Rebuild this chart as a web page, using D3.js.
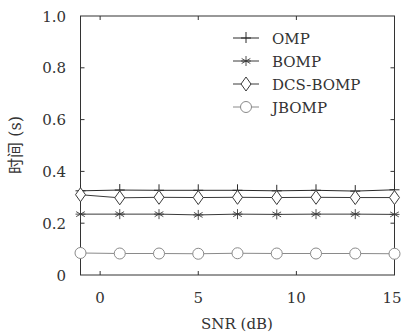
<!DOCTYPE html>
<html>
<head>
<meta charset="utf-8">
<script src="https://cdn.jsdelivr.net/npm/d3@7"></script>
<style>
  body { margin: 0; background: #fff; }
</style>
</head>
<body>
<svg id="chart" width="403" height="336" font-family="'DejaVu Serif', serif"></svg>
<script>
// SNR points (dB)
const snr = [-1, 1, 3, 5, 7, 9, 11, 13, 15];
const ompTime = [0.325, 0.328, 0.327, 0.327, 0.327, 0.325, 0.327, 0.324, 0.329];
const bompTime = [0.235, 0.235, 0.235, 0.232, 0.235, 0.234, 0.235, 0.235, 0.234];
const dcsTime = [0.31, 0.298, 0.3, 0.299, 0.3, 0.299, 0.3, 0.299, 0.299];
const jbompTime = [0.085, 0.083, 0.083, 0.082, 0.084, 0.083, 0.083, 0.083, 0.082];
const seriesNames = ["OMP", "BOMP", "DCS-BOMP", "JBOMP"];
const xTicks = [0, 5, 10, 15];
const yTicks = [0, 0.2, 0.4, 0.6, 0.8, 1.0];

const svg = d3.select("#chart");
const m = { left: 80.5, right: 394.5, top: 16, bottom: 275 };
const txt = "#333";

const x = d3.scaleLinear().domain([-1, 15]).range([m.left, m.right]);
const y = d3.scaleLinear().domain([0, 1]).range([m.bottom, m.top]);

const series = [
  { name: seriesNames[0], vals: ompTime, color: "#2a2a2a", mark: "plus" },
  { name: seriesNames[1], vals: bompTime, color: "#3a3a3a", mark: "star" },
  { name: seriesNames[2], vals: dcsTime, color: "#3a3a3a", mark: "diamond" },
  { name: seriesNames[3], vals: jbompTime, color: "#8a8a8a", mark: "circle" }
];

function drawMark(g, type, cx, cy, color) {
  if (type == "plus") {
    g.append("path").attr("d", `M${cx-5},${cy}H${cx+5}M${cx},${cy-6}V${cy+5}`)
      .attr("stroke", color).attr("stroke-width", 1).attr("fill", "none");
  } else if (type == "star") {
    const r = 5;
    let d = "";
    for (let a = 0; a < 180; a += 60) {
      const t = (a + 90) * Math.PI / 180;
      d += `M${cx - r*Math.cos(t)},${cy - r*Math.sin(t)}L${cx + r*Math.cos(t)},${cy + r*Math.sin(t)}`;
    }
    d += `M${cx-5},${cy}H${cx+5}`;
    g.append("path").attr("d", d).attr("stroke", color).attr("stroke-width", 0.9).attr("fill", "none");
  } else if (type == "diamond") {
    g.append("path").attr("d", `M${cx},${cy-7}L${cx+5},${cy}L${cx},${cy+7}L${cx-5},${cy}Z`)
      .attr("stroke", color).attr("stroke-width", 1).attr("fill", "#fff");
  } else {
    g.append("circle").attr("cx", cx).attr("cy", cy).attr("r", 5.5)
      .attr("stroke", color).attr("stroke-width", 1).attr("fill", "#fff");
  }
}

// frame
svg.append("rect").attr("x", m.left).attr("y", m.top)
  .attr("width", m.right - m.left).attr("height", m.bottom - m.top)
  .attr("fill", "none").attr("stroke", "#333").attr("stroke-width", 1);

// ticks (inward, mirrored)
const tl = 4;
yTicks.slice(1, -1).forEach(v => {
  svg.append("path").attr("d", `M${m.left},${y(v)}h${tl}M${m.right},${y(v)}h${-tl}`)
    .attr("stroke", "#333").attr("fill", "none");
});
xTicks.slice(0, -1).forEach(v => {
  svg.append("path").attr("d", `M${x(v)},${m.bottom}v${-tl}M${x(v)},${m.top}v${tl}`)
    .attr("stroke", "#333").attr("fill", "none");
});

// tick labels
yTicks.forEach(v => {
  svg.append("text").attr("x", 66).attr("y", y(v) + 5.5).attr("text-anchor", "end")
    .attr("font-size", 15).attr("fill", txt).text(v == 0 ? "0" : v.toFixed(1));
});
xTicks.forEach(v => {
  svg.append("text").attr("x", Math.min(x(v), 392)).attr("y", 303).attr("text-anchor", "middle")
    .attr("font-size", 15).attr("fill", txt).text(v);
});

// axis titles
svg.append("text").attr("x", 237).attr("y", 329).attr("text-anchor", "middle")
  .attr("font-size", 15).attr("fill", txt).text("SNR (dB)");
svg.append("text").attr("transform", "translate(21,145) rotate(-90)")
  .attr("text-anchor", "middle").attr("font-size", 16).attr("fill", txt)
  .attr("font-family", "'DejaVu Serif', 'Noto Sans CJK SC', serif")
  .text("时间 (s)");

// lines and markers
const line = d3.line().x((d, i) => x(snr[i])).y(d => y(d));
series.forEach(s => {
  svg.append("path").datum(s.vals).attr("d", line)
    .attr("fill", "none").attr("stroke", s.color).attr("stroke-width", 1);
  const g = svg.append("g");
  s.vals.forEach((v, i) => drawMark(g, s.mark, x(snr[i]), y(v), s.color));
});

// legend
series.forEach((s, i) => {
  const ly = 38 + i * 23;
  svg.append("path").attr("d", `M233,${ly}H259`).attr("stroke", s.color).attr("fill", "none");
  drawMark(svg.append("g"), s.mark, 246, ly, s.color);
  svg.append("text").attr("x", 272).attr("y", ly + 5.5).attr("font-size", 15)
    .attr("fill", txt).text(s.name);
});
</script>
</body>
</html>
